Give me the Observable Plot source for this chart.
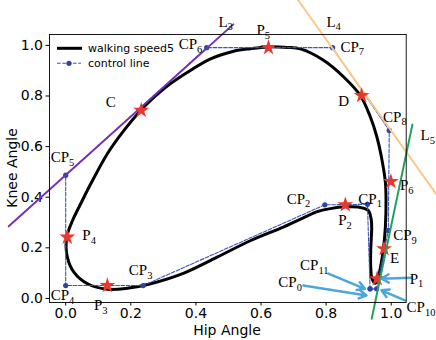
<!DOCTYPE html>
<html><head><meta charset="utf-8">
<script src="https://cdn.jsdelivr.net/npm/d3@7"></script>
<script src="https://cdn.jsdelivr.net/npm/@observablehq/plot@0.6"></script>
<style>body{margin:0;background:#fff}svg{overflow:hidden}</style>
</head><body><div id="chart"></div>
<script>
// gait curve (walking speed5)
const curveHip = [0.128,0.067,0.025,0.005,0.003,0.021,0.051,0.077,0.128,0.179,0.230,0.261,0.322,0.383,0.445,0.516,0.567,0.623,0.680,0.721,0.792,0.854,0.905,0.936,0.956,0.969,0.982,0.984,0.982,0.976,0.969,0.959,0.951,0.941,0.937,0.937,0.940,0.938,0.929,0.899,0.862,0.813,0.770,0.736,0.670,0.567,0.465,0.363,0.261,0.189];
const curveKnee = [0.036,0.058,0.104,0.163,0.242,0.308,0.387,0.453,0.572,0.664,0.743,0.783,0.849,0.901,0.947,0.977,0.987,0.994,0.992,0.986,0.941,0.875,0.802,0.717,0.638,0.565,0.460,0.387,0.282,0.196,0.137,0.078,0.060,0.078,0.124,0.190,0.282,0.316,0.348,0.361,0.362,0.355,0.342,0.322,0.283,0.228,0.163,0.100,0.058,0.040];

// control points CP0..CP11 (CP11 = CP0)
const cpNames = ["CP0","CP1","CP2","CP3","CP4","CP5","CP6","CP7","CP8","CP9","CP10","CP11"];
const cpHip  = [0.935,0.927,0.796,0.238,0.000,0.000,0.433,0.820,0.994,0.991,0.955,0.935];
const cpKnee = [0.038,0.372,0.370,0.051,0.051,0.487,0.991,0.991,0.664,0.269,0.038,0.038];

// star points
const starNames = ["P1","P2","P3","P4","P5","P6","C","D","E"];
const starHip  = [0.957,0.859,0.128,0.005,0.623,0.999,0.232,0.909,0.978];
const starKnee = [0.078,0.370,0.051,0.242,0.991,0.462,0.743,0.802,0.196];

// tangent lines
const l3Hip = [-0.175,0.515], l3Knee = [0.285,1.083];
const l4Hip = [0.693,1.150],  l4Knee = [1.217,0.391];
const l5Hip = [1.065,0.940],  l5Knee = [0.687,-0.080];

// annotation labels (anchor at left/baseline, data units)
const labelText = ["CP6","P5","CP7","D","CP8","L5","L4","L3","C","CP5","P4","CP4","P3","CP3","CP2","CP1","P2","P6","CP9","E","CP11","CP0","P1","CP10"];
const labelHip  = [0.347,0.586,0.844,0.837,0.975,1.090,0.801,0.469,0.123,-0.046,0.051,-0.046,0.087,0.194,0.679,0.899,0.837,1.027,1.006,0.996,0.720,0.653,1.057,1.047];
const labelKnee = [0.984,1.040,0.974,0.759,0.698,0.625,1.073,1.073,0.756,0.539,0.229,-0.008,-0.047,0.091,0.374,0.374,0.289,0.427,0.229,0.140,0.111,0.045,0.058,-0.054];

// callout arrows
const arrowFromHip  = [0.807,0.730,1.062,1.042];
const arrowFromKnee = [0.098,0.051,0.082,-0.008];
const arrowToHip    = [0.919,0.924,0.970,0.970];
const arrowToKnee   = [0.038,0.012,0.078,0.032];

const xTicks = [0,0.2,0.4,0.6,0.8,1.0];
const yTicks = [0,0.2,0.4,0.6,0.8,1.0];

const curve = curveHip.map((x,i)=>({x, y: curveKnee[i]}));
const cps = cpNames.map((n,i)=>({n, x: cpHip[i], y: cpKnee[i]}));
const stars = starNames.map((n,i)=>({n, x: starHip[i], y: starKnee[i]}));
const mk = (xs,ys)=>xs.map((x,i)=>({x, y: ys[i]}));
const labels = labelText.map((t,i)=>({t, x: labelHip[i], y: labelKnee[i]}));
const arrows = arrowFromHip.map((x1,i)=>({x1, y1: arrowFromKnee[i], x2: arrowToHip[i], y2: arrowToKnee[i]}));

const serif = "'Liberation Serif','Times New Roman',serif";
const sans = "'DejaVu Sans', sans-serif";

const svg = Plot.plot({
  width: 436, height: 340,
  marginLeft: 49, marginRight: 30.3, marginTop: 34, marginBottom: 38,
  style: {fontFamily: sans, fontSize: "14px", background: "white", overflow: "hidden"},
  x: {domain: [-0.0498, 1.046]},
  y: {domain: [-0.016, 1.043]},
  marks: [
    Plot.axisX({ticks: xTicks, tickFormat: d3.format(".1f"), tickSize: 3.5, tickPadding: 2, fontSize: 14, label: null, stroke: "black", fill: "black"}),
    Plot.axisY({ticks: yTicks, tickFormat: d3.format(".1f"), tickSize: 3.5, tickPadding: 3, fontSize: 14, label: null, stroke: "black", fill: "black"}),
    Plot.line(curve, {x: "x", y: "y", curve: "catmull-rom-closed", stroke: "black", strokeWidth: 3}),
    Plot.line(cps, {x: "x", y: "y", stroke: "#3a55b8", strokeWidth: 1.1, strokeDasharray: "3.7,1.6"}),
    Plot.dot(cps, {x: "x", y: "y", r: 2.6, fill: "#2b44aa"}),
    Plot.line(mk(l3Hip,l3Knee), {x: "x", y: "y", stroke: "#7530b8", strokeWidth: 2}),
    Plot.line(mk(l4Hip,l4Knee), {x: "x", y: "y", stroke: "#fac98a", strokeWidth: 2}),
    Plot.dot(stars, {x: "x", y: "y", symbol: "star", r: 5, fill: "#e8382d"}),
    Plot.line(mk(l5Hip,l5Knee), {x: "x", y: "y", stroke: "#22a05c", strokeWidth: 2}),
    Plot.arrow(arrows, {x1: "x1", y1: "y1", x2: "x2", y2: "y2", stroke: "#4aa6dc", strokeWidth: 2.5, headLength: 5, headAngle: 60}),
    Plot.text(labels, {x: "x", y: "y", text: "t", textAnchor: "start", lineAnchor: "bottom", fontFamily: serif, fontSize: 15, fill: "black"}),
    Plot.frame({stroke: "black", strokeWidth: 0.9})
  ]
});

// subscripts for labels
d3.select(svg).selectAll("text").each(function(){
  const t = this.textContent;
  const m = /^(CP|P|L)(\d+)$/.exec(t);
  if (!m) return;
  const el = d3.select(this);
  el.text(null);
  el.append("tspan").text(m[1]);
  el.append("tspan").style("font-size", "10.5px").attr("dy", "3.5").text(m[2]);
});

const s = d3.select(svg);
function addText(x, y, str, size, anchor, transform) {
  const t = s.append("text")
    .style("font-family", sans).style("font-size", size + "px")
    .style("text-anchor", anchor).style("dominant-baseline", "central")
    .attr("fill", "black").text(str);
  if (transform) t.attr("transform", transform); else t.attr("x", x).attr("y", y);
  return t;
}
// axis labels
addText(227, 330, "Hip Angle", 14, "middle");
addText(0, 0, "Knee Angle", 14, "middle", "translate(12,168) rotate(-90)");
// legend
s.append("line").attr("x1",57).attr("x2",82).attr("y1",48.3).attr("y2",48.3).attr("stroke","black").attr("stroke-width",3);
addText(88, 48.3, "walking speed5", 11, "start");
s.append("line").attr("x1",57).attr("x2",81).attr("y1",63.3).attr("y2",63.3).attr("stroke","#3a55b8").attr("stroke-width",1.1).attr("stroke-dasharray","3.7,1.6");
s.append("circle").attr("cx",69).attr("cy",63.3).attr("r",2.6).attr("fill","#2b44aa");
addText(88, 63.3, "control line", 11, "start");

document.getElementById("chart").appendChild(svg);
</script></body></html>
